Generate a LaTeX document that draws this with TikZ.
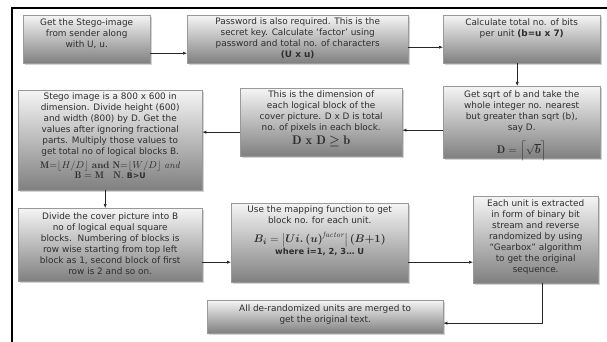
\documentclass[tikz,border=0pt]{standalone}
\usepackage{amsmath}
\usepackage{amssymb}
\usepackage{fontspec}
\usepackage{tikz}
\usetikzlibrary{arrows.meta,shadows}
\newfontfamily\boxfont{DejaVu Sans}

\begin{document}
\begin{tikzpicture}[x=1pt,y=-1pt,
		stage/.style={draw=gray!80,line width=0.4pt,top color=black!4,bottom color=black!50,
			drop shadow={shadow xshift=2pt,shadow yshift=-2pt,opacity=0.35},anchor=north west,inner sep=0pt},
		txt/.style={anchor=north,align=center,inner sep=0pt,text=black!82,
			font=\boxfont\fontsize{8.9}{11}\selectfont},
		flow/.style={-{Latex[length=4pt,width=3.2pt]},line width=0.6pt,black!85}]
			\useasboundingbox (0,0) rectangle (607,342);
			\draw[line width=2.6pt] (12,342) -- (12,8) -- (607,8);
			% boxes
			\node[stage,minimum width=127pt,minimum height=48pt] (get) at (23,15) {};
			\node[stage,minimum width=221pt,minimum height=48pt] (pwd) at (187,15) {};
			\node[stage,minimum width=157pt,minimum height=48pt] (bits) at (443,15) {};
			\node[stage,minimum width=157pt,minimum height=72pt] (sqrt) at (443,86) {};
			\node[stage,minimum width=162pt,minimum height=68pt] (dim) at (240,88) {};
			\node[stage,minimum width=184pt,minimum height=100pt] (img) at (18,90) {};
			\node[stage,minimum width=184pt,minimum height=73pt] (cover) at (18,208) {};
			\node[stage,minimum width=177pt,minimum height=79pt] (map) at (231,203) {};
			\node[stage,minimum width=125pt,minimum height=87pt] (unit) at (473,196) {};
			\node[stage,minimum width=236pt,minimum height=33pt] (merge) at (207,300) {};
			% texts
			\node[txt] (t1) at ([yshift=-4pt]get.north) {Get the Stego-image\\from sender along\\with U, u.};
			\node[txt] (t2) at ([yshift=-3pt]pwd.north) {Password is also required. This is the\\secret key. Calculate ‘factor’ using\\password and total no. of characters\\\textbf{(U x u)}};
			\node[txt] (t3) at ([yshift=-4pt]bits.north) {Calculate total no. of bits\\per unit \textbf{(b=u x 7)}};
			\node[txt] (t4) at ([yshift=-5pt]sqrt.north) {Get sqrt of b and take the\\whole integer no. nearest\\but greater than sqrt (b),\\say D.\\[7pt]
				{\fontsize{11}{13}\selectfont$\mathbf{D}=\left\lceil\sqrt{\boldsymbol{b}}\right\rceil$}};
			\node[txt] (t5) at ([yshift=-3pt]dim.north) {This is the dimension of\\each logical block of the\\cover picture. D x D is total\\no. of pixels in each block.\\[3pt]
				{\fontsize{12.5}{14}\selectfont$\mathbf{D\ x\ D}\boldsymbol{\geq}\mathbf{b}$}};
			\node[txt] (t6) at ([yshift=-3pt]img.north) {Stego image is a 800 x 600 in\\dimension. Divide height (600)\\and width (800) by D. Get the\\values after ignoring fractional\\parts. Multiply those values to\\get total no of logical blocks B.\\[3pt]
				{\normalfont\fontsize{9.6}{10}\selectfont$\mathbf{M}{=}\lfloor H/D\rfloor$ \textbf{and} $\mathbf{N}{=}\lfloor W/D\rfloor$ \textit{and}}\\[-1.5pt]
				{\normalfont\fontsize{9.6}{10}\selectfont$\mathbf{B=M}$\quad$\mathbf{N.}$ {\boxfont\bfseries\fontsize{7.8}{9}\selectfont B>U}}};
			\node[txt] (t7) at ([yshift=-5pt]cover.north) {Divide the cover picture into B\\no of logical equal square\\blocks.\ \ Numbering of blocks is\\row wise starting from top left\\block as 1, second block of first\\row is 2 and so on.};
			\node[txt] (t8) at ([yshift=-3pt]map.north) {Use the mapping function to get\\block no. for each unit.\\[8pt]
				{\fontsize{11}{13}\selectfont$\boldsymbol{B_i}=\bigl|\boldsymbol{U i.\,(u)}^{\mathit{factor}}\bigr|\,\boldsymbol{(B{+}1)}$}\\[1pt]
				{\bfseries\fontsize{8.3}{10}\selectfont where i=1, 2, 3\dots\ U}};
			\node[txt] (t9) at ([yshift=-4pt]unit.north) {Each unit is extracted\\in form of binary bit\\stream and reverse\\randomized by using\\“Gearbox” algorithm\\to get the original\\sequence.};
			\node[txt] (t10) at ([yshift=-5pt]merge.north) {All de-randomized units are merged to\\get the original text.};
			% connectors
			\draw[flow] ([yshift=-14pt]get.east) -- ([yshift=-14pt]pwd.west);
			\draw[flow] ([yshift=-8pt]pwd.east) -- ([yshift=-8pt]bits.west);
			\draw[flow] ([xshift=-4.5pt]bits.south) -- ([xshift=-4.5pt]sqrt.north);
			\draw[flow] ([yshift=-8pt]sqrt.west) -- ([yshift=-8pt]dim.east);
			\draw[flow] ([yshift=-10pt]dim.west) -- ([yshift=8pt]img.east);
			\draw[flow] ([xshift=-5pt]img.south) -- ([xshift=-5pt]cover.north);
			\draw[flow] ([yshift=-17.5pt]cover.east) -- ([yshift=-19.5pt]map.west);
			\draw[flow] ([yshift=-19.5pt]map.east) -- ([yshift=-22.5pt]unit.west);
			\draw[flow] ([xshift=6.5pt]unit.south) |- ([yshift=-6.5pt]merge.east);
		\end{tikzpicture}
\end{document}
